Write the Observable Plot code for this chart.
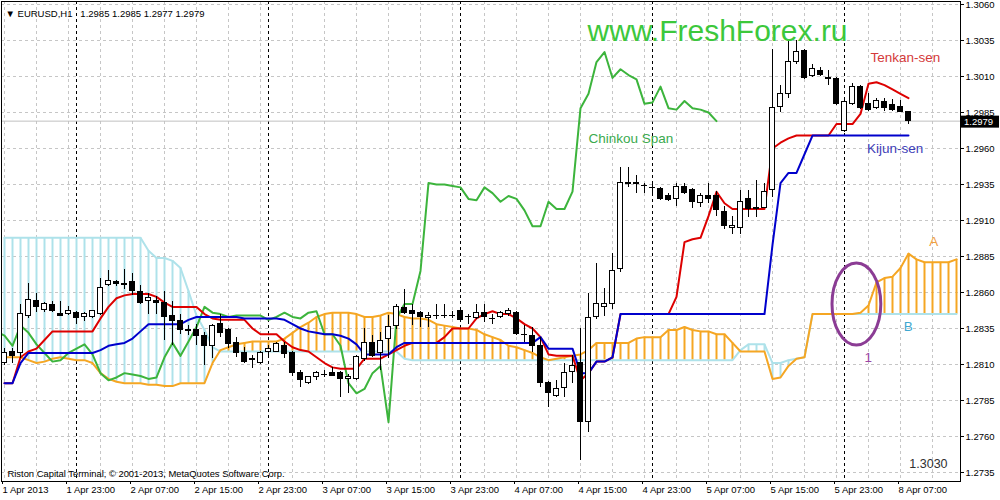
<!DOCTYPE html>
<html>
<head>
<meta charset="utf-8">
<script src="https://cdn.jsdelivr.net/npm/d3@7"></script>
<script src="https://cdn.jsdelivr.net/npm/@observablehq/plot@0.6"></script>
<style>
  html, body { margin: 0; padding: 0; background: #ffffff; }
  #chart { width: 1000px; height: 500px; overflow: hidden; }
  #chart svg { display: block; }
</style>
</head>
<body>
<div id="chart"></div>
<script>
// ---------- DATA (EURUSD H1, bars 0..113) ----------
const open = [1.2811,1.2819,1.2818,1.2844,1.2854,1.2848,1.2851,1.2845,1.2845,1.2846,
1.2843,1.2843,1.2845,1.2865,1.2867,1.2865,1.2867,1.2860,1.2854,1.2854,
1.2853,1.2844,1.2840,1.2834,1.2834,1.2830,1.2823,1.2838,1.2834,1.2825,
1.2818,1.2814,1.2811,1.2819,1.2819,1.2823,1.2818,1.2804,1.2797,1.2801,
1.2803,1.2804,1.2804,1.2800,1.2800,1.2814,1.2825,1.2818,1.2828,1.2837,
1.2849,1.2847,1.2846,1.2842,1.2844,1.2844,1.2844,1.2847,1.2843,1.2842,
1.2846,1.2842,1.2843,1.2845,1.2846,1.2831,1.2830,1.2823,1.2797,1.2788,
1.2794,1.2805,1.2811,1.2770,1.2843,1.2850,1.2852,1.2876,1.2936,1.2936,
1.2934,1.2933,1.2932,1.2927,1.2925,1.2933,1.2931,1.2922,1.2927,1.2927,
1.2916,1.2905,1.2905,1.2925,1.2919,1.2919,1.2931,1.2989,1.2998,1.3020,
1.3028,1.3010,1.3014,1.3009,1.3008,1.2972,1.2991,1.3003,1.2991,1.2988,
1.2992,1.2990,1.2989,1.2985];
const high = [1.2821,1.2821,1.2852,1.2866,1.2859,1.2853,1.2854,1.2854,1.2850,1.2847,
1.2846,1.2847,1.2870,1.2875,1.2868,1.2876,1.2873,1.2865,1.2859,1.2857,
1.2861,1.2854,1.2845,1.2837,1.2838,1.2832,1.2838,1.2845,1.2835,1.2829,
1.2822,1.2816,1.2819,1.2823,1.2825,1.2825,1.2819,1.2806,1.2802,1.2805,
1.2806,1.2808,1.2805,1.2803,1.2816,1.2835,1.2830,1.2832,1.2844,1.2852,
1.2862,1.2852,1.2847,1.2846,1.2852,1.2852,1.2847,1.2848,1.2845,1.2852,
1.2852,1.2845,1.2847,1.2849,1.2847,1.2837,1.2836,1.2829,1.2798,1.2799,
1.2811,1.2816,1.2835,1.2859,1.2880,1.2863,1.2887,1.2947,1.2947,1.2941,
1.2936,1.2936,1.2933,1.2929,1.2936,1.2936,1.2932,1.2929,1.2936,1.2930,
1.2920,1.2913,1.2931,1.2931,1.2938,1.2936,1.3029,1.3004,1.3035,1.3035,
1.3029,1.3018,1.3016,1.3014,1.3009,1.2993,1.3005,1.3004,1.2998,1.2995,
1.2995,1.2994,1.2993,1.2985];
const low = [1.2809,1.2811,1.2814,1.2842,1.2846,1.2846,1.2846,1.2843,1.2844,1.2838,
1.2840,1.2842,1.2844,1.2864,1.2864,1.2862,1.2858,1.2852,1.2845,1.2845,
1.2827,1.2823,1.2831,1.2830,1.2823,1.2809,1.2814,1.2829,1.2821,1.2815,
1.2811,1.2807,1.2810,1.2816,1.2818,1.2814,1.2802,1.2794,1.2796,1.2799,
1.2801,1.2802,1.2787,1.2790,1.2799,1.2812,1.2815,1.2806,1.2814,1.2834,
1.2845,1.2837,1.2836,1.2836,1.2841,1.2842,1.2842,1.2839,1.2838,1.2841,
1.2839,1.2838,1.2842,1.2843,1.2830,1.2825,1.2818,1.2794,1.2780,1.2787,
1.2787,1.2797,1.2743,1.2763,1.2841,1.2843,1.2848,1.2874,1.2933,1.2929,
1.2929,1.2927,1.2924,1.2923,1.2920,1.2928,1.2918,1.2919,1.2922,1.2913,
1.2904,1.2900,1.2900,1.2912,1.2912,1.2918,1.2926,1.2985,1.2995,1.3018,
1.3008,1.3009,1.3010,1.3004,1.2990,1.2971,1.2990,1.2987,1.2986,1.2987,
1.2986,1.2986,1.2985,1.2977];
const close = [1.2818,1.2816,1.2845,1.2855,1.2850,1.2852,1.2847,1.2844,1.2847,1.2842,
1.2845,1.2847,1.2863,1.2868,1.2866,1.2866,1.2861,1.2853,1.2856,1.2853,
1.2843,1.2840,1.2834,1.2833,1.2830,1.2823,1.2837,1.2832,1.2824,1.2818,
1.2812,1.2813,1.2818,1.2821,1.2824,1.2817,1.2804,1.2799,1.2801,1.2804,
1.2803,1.2802,1.2800,1.2801,1.2815,1.2825,1.2816,1.2826,1.2836,1.2850,
1.2846,1.2845,1.2843,1.2844,1.2844,1.2844,1.2844,1.2841,1.2843,1.2846,
1.2843,1.2842,1.2846,1.2847,1.2831,1.2831,1.2823,1.2797,1.2790,1.2793,
1.2804,1.2809,1.2770,1.2842,1.2852,1.2852,1.2875,1.2936,1.2935,1.2935,
1.2934,1.2933,1.2925,1.2924,1.2933,1.2929,1.2923,1.2927,1.2925,1.2917,
1.2906,1.2906,1.2923,1.2918,1.2918,1.2930,1.2988,1.2998,1.3020,1.3027,
1.3009,1.3015,1.3011,1.3008,1.2991,1.2992,1.3003,1.2988,1.2987,1.2993,
1.2988,1.2987,1.2985,1.2979];

// Ichimoku lines
const tenkan = [1.2797,1.2797,1.2815,1.2819,1.2821,1.2827,1.2833,1.2833,1.2833,1.2833,
1.2833,1.2833,1.2842,1.2850,1.2856,1.2858,1.2859,1.2859,1.2859,1.2857,
1.2853,1.2850,1.2850,1.2850,1.2850,1.2845,1.2842,1.2841,1.2841,1.2841,
1.2841,1.2835,1.2831,1.2831,1.2831,1.2826,1.2822,1.2820,1.2819,1.2815,
1.2811,1.2808,1.2807,1.2807,1.2807,1.2814,1.2814,1.2814,1.2817,1.2820,
1.2823,1.2825,1.2825,1.2825,1.2825,1.2829,1.2835,1.2835,1.2835,1.2842,
1.2845,1.2847,1.2845,1.2845,1.2842,1.2838,1.2835,1.2829,1.2817,1.2816,
1.2816,1.2816,1.2799,1.2804,1.2812,1.2812,1.2815,1.2845,1.2845,1.2845,
1.2845,1.2845,1.2845,1.2845,1.2857,1.2895,1.2897,1.2898,1.2913,1.2930,
1.2922,1.2918,1.2918,1.2918,1.2918,1.2918,1.2960,1.2964,1.2967,1.2969,
1.2969,1.2969,1.2969,1.2969,1.2977,1.2977,1.2977,1.2984,1.3005,1.3006,
1.3004,1.3001,1.2998,1.2995];
const kijun = [1.2797,1.2797,1.2811,1.2818,1.2818,1.2818,1.2818,1.2818,1.2818,1.2818,
1.2818,1.2818,1.2820,1.2823,1.2824,1.2825,1.2828,1.2833,1.2838,1.2838,
1.2838,1.2838,1.2838,1.2841,1.2843,1.2843,1.2843,1.2843,1.2843,1.2843,
1.2842,1.2842,1.2842,1.2842,1.2842,1.2841,1.2838,1.2835,1.2833,1.2832,
1.2831,1.2831,1.2830,1.2828,1.2824,1.2817,1.2817,1.2817,1.2817,1.2822,
1.2825,1.2825,1.2825,1.2825,1.2825,1.2825,1.2825,1.2825,1.2825,1.2825,
1.2825,1.2825,1.2825,1.2825,1.2825,1.2825,1.2825,1.2829,1.2821,1.2821,
1.2821,1.2821,1.2804,1.2804,1.2812,1.2812,1.2815,1.2845,1.2845,1.2845,
1.2845,1.2845,1.2845,1.2845,1.2845,1.2845,1.2845,1.2845,1.2845,1.2845,
1.2845,1.2845,1.2845,1.2845,1.2845,1.2845,1.2893,1.2936,1.2943,1.2943,
1.2956,1.2969,1.2969,1.2969,1.2969,1.2969,1.2969,1.2969,1.2969,1.2969,
1.2969,1.2969,1.2969,1.2969];
// Senkou spans (shifted forward, bars 0..119)
const senkouA = [1.2815,1.2815,1.2815,1.2813,1.2811,1.2812,1.2814,1.2815,1.2814,1.2813,
1.2813,1.2811,1.2804,1.2800,1.2798,1.2797,1.2797,1.2797,1.2796,1.2796,
1.2795,1.2795,1.2797,1.2797,1.2797,1.2797,1.2811,1.2820,1.2822,1.2824,
1.2825,1.2826,1.2826,1.2826,1.2826,1.2828,1.2832,1.2836,1.2839,1.2843,
1.2845,1.2846,1.2846,1.2846,1.2845,1.2843,1.2843,1.2844,1.2846,1.2845,
1.2843,1.2842,1.2842,1.2841,1.2838,1.2837,1.2836,1.2835,1.2835,1.2834,
1.2831,1.2829,1.2827,1.2823,1.2822,1.2820,1.2818,1.2815,1.2813,1.2814,
1.2815,1.2816,1.2817,1.2820,1.2825,1.2825,1.2825,1.2825,1.2825,1.2828,
1.2829,1.2829,1.2829,1.2834,1.2834,1.2836,1.2834,1.2833,1.2833,1.2831,
1.2831,1.2825,1.2819,1.2819,1.2819,1.2819,1.2800,1.2801,1.2809,1.2814,
1.2815,1.2845,1.2845,1.2845,1.2845,1.2845,1.2845,1.2846,1.2851,1.2867,
1.2870,1.2871,1.2877,1.2887,1.2883,1.2881,1.2881,1.2881,1.2881,1.2883];
const senkouB = [1.2898,1.2898,1.2898,1.2898,1.2898,1.2898,1.2898,1.2898,1.2898,1.2898,
1.2898,1.2898,1.2898,1.2898,1.2898,1.2898,1.2898,1.2898,1.2889,1.2884,
1.2884,1.2882,1.2877,1.2861,1.2844,1.2834,1.2822,1.2819,1.2819,1.2819,
1.2819,1.2819,1.2819,1.2819,1.2819,1.2819,1.2819,1.2819,1.2819,1.2819,
1.2819,1.2819,1.2819,1.2819,1.2819,1.2819,1.2819,1.2819,1.2819,1.2819,
1.2814,1.2813,1.2813,1.2813,1.2813,1.2813,1.2813,1.2813,1.2813,1.2813,
1.2813,1.2813,1.2813,1.2813,1.2813,1.2813,1.2813,1.2813,1.2813,1.2813,
1.2813,1.2813,1.2813,1.2813,1.2813,1.2813,1.2813,1.2813,1.2813,1.2813,
1.2813,1.2813,1.2813,1.2813,1.2813,1.2813,1.2813,1.2813,1.2813,1.2813,
1.2813,1.2813,1.2820,1.2824,1.2824,1.2824,1.2811,1.2811,1.2813,1.2814,
1.2815,1.2845,1.2845,1.2845,1.2845,1.2845,1.2845,1.2845,1.2845,1.2845,
1.2845,1.2845,1.2845,1.2845,1.2845,1.2845,1.2845,1.2845,1.2845,1.2845];
const chinkouShift = 24; // Chinkou Span = close plotted 24 bars back

const timeLabels = ["1 Apr 2013","1 Apr 23:00","2 Apr 07:00","2 Apr 15:00","2 Apr 23:00",
  "3 Apr 07:00","3 Apr 15:00","3 Apr 23:00","4 Apr 07:00","4 Apr 15:00","4 Apr 23:00",
  "5 Apr 07:00","5 Apr 15:00","5 Apr 23:00","8 Apr 07:00"];
const labelEvery = 8;           // one time label every 8 hourly bars
const daySeparators = [9, 33, 57, 81, 105]; // bars starting a new day
const priceTicks = [1.2735,1.2760,1.2785,1.2810,1.2835,1.2860,1.2885,1.2910,1.2935,1.2960,1.2985,1.3010,1.3035,1.3060];
const header = "\u25BC EURUSD,H1\u00a0\u00a0\u00a01.2985 1.2985 1.2977 1.2979";

// ---------- STYLE / LAYOUT ----------
const C = {
  red: "#dd0000", blue: "#0000cc", green: "#3cb43c",
  orange: "#f5a623", lightBlue: "#aee2ea", grid: "#c6c6c6"
};
const FONT = "Liberation Sans, Arial, sans-serif";
const bodyHalf = 0.3;

const annotations = [
  {bar: 72.875, price: 1.30410, text: "www.FreshForex.ru", fill: "#3cc83c", size: 30},
  {bar: 73.0,   price: 1.29665, text: "Chinkou Span", fill: "#3aaa4e", size: 13.5},
  {bar: 108.25, price: 1.30229, text: "Tenkan-sen", fill: "#d43a3a", size: 13.5},
  {bar: 107.8,  price: 1.29597, text: "Kijun-sen", fill: "#4040b8", size: 13.5},
  {bar: 115.6,  price: 1.28950, text: "A", fill: "#f0a040", size: 13.5},
  {bar: 112.4,  price: 1.28366, text: "B", fill: "#3ea8d0", size: 13.5},
  {bar: 107.5,  price: 1.28144, text: "1", fill: "#9a44a4", size: 13.5},
  {bar: 113.1,  price: 1.27406, text: "1.3030", fill: "#303030", size: 12.5},
  {bar: 0.375,  price: 1.27343, text: "Riston Capital Terminal, \u00a9 2001-2013, MetaQuotes Software Corp.", fill: "#000", size: 9.4},
  {bar: 0.125,  price: 1.30534, text: header, fill: "#000", size: 9.5}
];
const ellipse = {bar: 106.55, price: 1.28517, rxBars: 3.05, ryPrice: 0.00285, stroke: "#8b3c94"};

// ---------- BUILD ----------
const candles = open.map((o, i) => ({i, o, h: high[i], l: low[i], c: close[i]}));
const upC = candles.filter(d => d.c > d.o);
const downC = candles.filter(d => d.c < d.o);
const flatC = candles.filter(d => d.c === d.o);
const cloud = senkouA.map((a, i) => ({i, a, b: senkouB[i]}));
const ind = tenkan.map((t, i) => ({i, t, k: kijun[i]}));
const chinkou = close.map((c, j) => ({i: j - chinkouShift, v: c})).filter(d => d.i >= -1);
const labelBars = timeLabels.map((_, k) => k * labelEvery);
const gridBars = d3.range(0, 120, 4);

const chart = Plot.plot({
  width: 1000,
  height: 500,
  marginTop: 1,
  marginBottom: 19,
  marginLeft: 1,
  marginRight: 40,
  x: {type: "linear", domain: [-0.375, 119.5]},
  y: {type: "linear", domain: [1.272875, 1.306208]},
  style: {fontFamily: FONT, fontSize: "9.5px", color: "#000", background: "#fff", overflow: "visible"},
  marks: [
    Plot.ruleY(priceTicks, {stroke: C.grid, strokeDasharray: "3,3"}),
    Plot.ruleX(gridBars, {stroke: C.grid, strokeDasharray: "3,3"}),
    Plot.ruleX(daySeparators, {stroke: "#000", strokeDasharray: "3,3"}),
    Plot.ruleY([close[close.length - 1]], {stroke: "#c0c0c0"}),
    // cloud hatching
    Plot.ruleX(cloud.filter(d => d.b > d.a), {x: "i", y1: "a", y2: "b", stroke: C.lightBlue, strokeWidth: 2}),
    Plot.ruleX(cloud.filter(d => d.a > d.b), {x: "i", y1: "a", y2: "b", stroke: C.orange, strokeWidth: 2}),
    Plot.line(cloud, {x: "i", y: "b", stroke: C.lightBlue, strokeWidth: 2}),
    Plot.line(cloud, {x: "i", y: "a", stroke: C.orange, strokeWidth: 2}),
    Plot.line(chinkou, {x: "i", y: "v", stroke: C.green, strokeWidth: 2, clip: true}),
    Plot.line(ind, {x: "i", y: "t", stroke: C.red, strokeWidth: 2}),
    Plot.line(ind, {x: "i", y: "k", stroke: C.blue, strokeWidth: 2}),
    // candles
    Plot.ruleX(candles, {x: "i", y1: "l", y2: "h", stroke: "#000", shapeRendering: "crispEdges"}),
    Plot.rect(upC, {x1: d => d.i - bodyHalf, x2: d => d.i + bodyHalf, y1: "o", y2: "c", fill: "#fff", stroke: "#000", shapeRendering: "crispEdges"}),
    Plot.rect(downC, {x1: d => d.i - bodyHalf, x2: d => d.i + bodyHalf, y1: "o", y2: "c", fill: "#000", stroke: "#000", shapeRendering: "crispEdges"}),
    Plot.ruleY(flatC, {y: "o", x1: d => d.i - bodyHalf - 0.05, x2: d => d.i + bodyHalf + 0.05, stroke: "#000", shapeRendering: "crispEdges"}),
    // axes
    Plot.axisY(priceTicks, {anchor: "right", tickSize: 3, tickPadding: 2, tickFormat: d => d.toFixed(4), fontSize: 9.5}),
    Plot.axisX(labelBars, {anchor: "bottom", tickSize: 3, tickPadding: 2, textAnchor: "start", dx: -2,
      tickFormat: d => timeLabels[labelBars.indexOf(d)], fontSize: 9.5}),
    Plot.frame({stroke: "#000"}),
    // annotations
    ...annotations.map(a => Plot.text([a], {x: "bar", y: "price", text: "text", fill: a.fill,
      fontSize: a.size, textAnchor: "start", fontFamily: FONT}))
  ]
});

document.getElementById("chart").appendChild(chart);

// overlays positioned through the Plot scales
const sx = chart.scale("x"), sy = chart.scale("y");
const svg = d3.select(chart);
svg.append("ellipse")
  .attr("cx", sx.apply(ellipse.bar))
  .attr("cy", sy.apply(ellipse.price))
  .attr("rx", sx.apply(ellipse.bar + ellipse.rxBars) - sx.apply(ellipse.bar))
  .attr("ry", sy.apply(ellipse.price - ellipse.ryPrice) - sy.apply(ellipse.price))
  .attr("fill", "none").attr("stroke", ellipse.stroke).attr("stroke-width", 3);

// current-price marker on the right axis
const lastPrice = close[close.length - 1];
const py = sy.apply(lastPrice);
const axisX0 = sx.apply(119.5);
const g = svg.append("g");
g.append("rect").attr("x", axisX0 + 1).attr("y", py - 5).attr("width", 38).attr("height", 12).attr("fill", "#000");
g.append("text").attr("x", axisX0 + 4).attr("y", py + 1).attr("dy", "0.34em")
  .attr("text-anchor", "start")
  .attr("fill", "#fff").attr("font-size", 9.5).attr("font-family", FONT).text(lastPrice.toFixed(4));
</script>
</body>
</html>
